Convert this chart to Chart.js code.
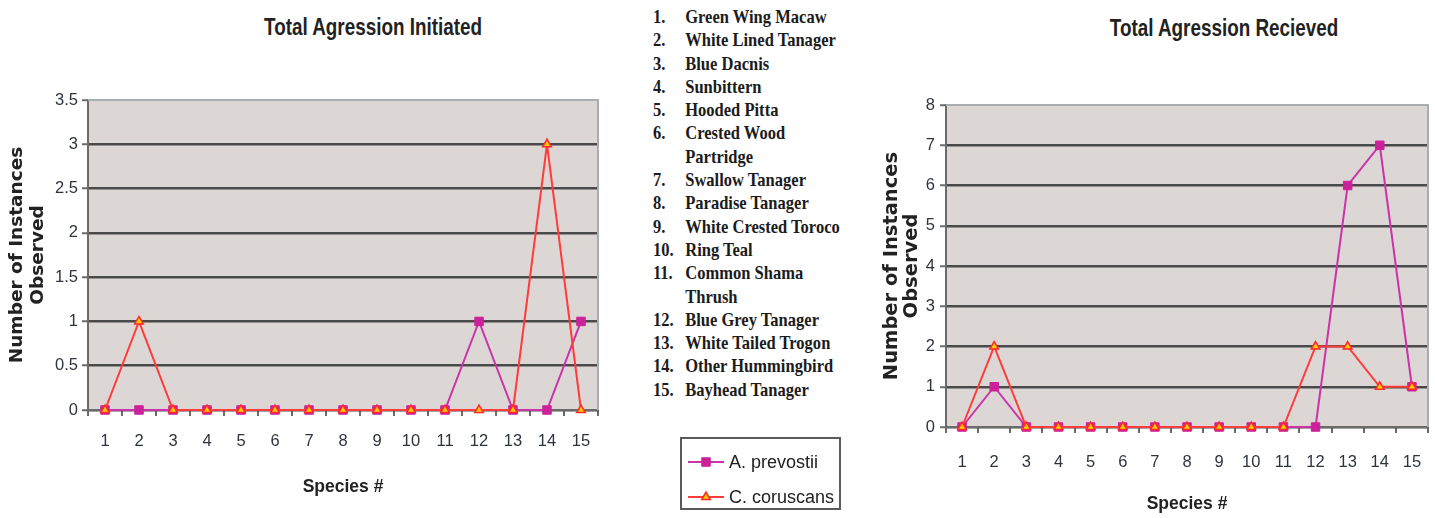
<!DOCTYPE html>
<html>
<head>
<meta charset="utf-8">
<title>Total Agression</title>
<script src="https://cdn.jsdelivr.net/npm/chart.js@4.4.1/dist/chart.umd.min.js"></script>
<style>
  html, body { margin: 0; padding: 0; background: #ffffff; }
  body { width: 1435px; height: 518px; position: relative; overflow: hidden; }
  .panel { position: absolute; top: 0; height: 518px; }
  .panel canvas { display: block; }
  .chart-title {
    position: absolute;
    font-family: "Liberation Sans", Arial, sans-serif;
    font-weight: bold; font-size: 23px; color: #222;
    white-space: nowrap; transform: translate(-50%, -50%) scaleX(0.82);
  }
  #species-list {
    position: absolute; left: 653px; top: 5px;
    font-family: "Liberation Serif", "Times New Roman", serif;
    font-weight: bold; font-size: 19px; line-height: 23.3px; color: #1c1c1c;
    transform: scaleX(0.87); transform-origin: left top;
    white-space: nowrap;
  }
  #species-list .item { display: flex; }
  #species-list .num { width: 37px; flex: none; }
  #legend {
    position: absolute; left: 680px; top: 437px; width: 157px; height: 69px;
    border: 2px solid #5a5a5a; background: #fff;
    font-family: "Liberation Sans", Arial, sans-serif; font-size: 18px; color: #222;
  }
  #legend .row { position: absolute; left: 6px; display: flex; align-items: center; height: 22px; }
  #legend .row canvas { display: block; margin-right: 5px; }
</style>
</head>
<body>

<div class="chart-title" style="left:373px; top:27px;">Total Agression Initiated</div>
<div class="chart-title" style="left:1224px; top:28px;">Total Agression Recieved</div>

<div class="panel" style="left:0; width:620px;"><canvas id="initiated" width="620" height="518"></canvas></div>
<div class="panel" style="left:860px; width:575px;"><canvas id="received" width="575" height="518"></canvas></div>

<div id="species-list"></div>
<div id="legend"></div>

<script>
// Species numbers on the x axis and the key listing them
const speciesIds = ['1', '2', '3', '4', '5', '6', '7', '8', '9', '10', '11', '12', '13', '14', '15'];
const speciesNames = [
  'Green Wing Macaw', 'White Lined Tanager', 'Blue Dacnis', 'Sunbittern', 'Hooded Pitta',
  'Crested Wood\nPartridge', 'Swallow Tanager', 'Paradise Tanager', 'White Crested Toroco', 'Ring Teal',
  'Common Shama\nThrush', 'Blue Grey Tanager', 'White Tailed Trogon', 'Other Hummingbird', 'Bayhead Tanager'
];

// Aggression counts per species
const initiatedPrevostii = [0, 0, 0, 0, 0, 0, 0, 0, 0, 0, 0, 1, 0, 0, 1];
const initiatedCoruscans = [0, 1, 0, 0, 0, 0, 0, 0, 0, 0, 0, 0, 0, 3, 0];
const receivedPrevostii  = [0, 1, 0, 0, 0, 0, 0, 0, 0, 0, 0, 0, 6, 7, 1];
const receivedCoruscans  = [0, 2, 0, 0, 0, 0, 0, 0, 0, 0, 0, 2, 2, 1, 1];

// Y axis tick values
const initiatedTicks = [0, 0.5, 1, 1.5, 2, 2.5, 3, 3.5];
const receivedTicks  = [0, 1, 2, 3, 4, 5, 6, 7, 8];

const seriesStyle = {
  prevostii: { label: 'A. prevostii', line: '#cc33aa', fill: '#cc2299', edge: '#cc2299', shape: 'rect', radius: 6, edgeWidth: 1, order: 1 },
  coruscans: { label: 'C. coruscans', line: '#ff3b3b', fill: '#ffcc00', edge: '#ff2a2a', shape: 'triangle', radius: 5, edgeWidth: 1.5, order: 0 }
};

const sansFont = '"Liberation Sans", Arial, sans-serif';

// Grey plot background plus the light top/right frame
const plotFrame = {
  id: 'plotFrame',
  beforeDraw(chart) {
    const { ctx, chartArea: a } = chart;
    ctx.save();
    ctx.fillStyle = '#dcd7d4';
    ctx.fillRect(a.left, a.top, a.right - a.left, a.bottom - a.top);
    ctx.restore();
  },
  beforeDatasetsDraw(chart) {
    const { ctx, chartArea: a } = chart;
    ctx.save();
    ctx.strokeStyle = '#a7adb0';
    ctx.lineWidth = 2;
    ctx.beginPath();
    ctx.moveTo(a.left, a.top);
    ctx.lineTo(a.right, a.top);
    ctx.lineTo(a.right, a.bottom);
    ctx.stroke();
    ctx.restore();
  }
};

function dataset(style, values) {
  return {
    label: style.label,
    data: values,
    borderColor: style.line,
    borderWidth: 2,
    backgroundColor: style.fill,
    pointStyle: style.shape,
    pointRadius: style.radius,
    pointHoverRadius: style.radius,
    pointBackgroundColor: style.fill,
    pointBorderColor: style.edge,
    pointBorderWidth: style.edgeWidth,
    tension: 0,
    clip: false,
    order: style.order
  };
}

function makeChart(id, prevostii, coruscans, ticks, geom) {
  const yMax = ticks[ticks.length - 1];
  return new Chart(document.getElementById(id), {
    type: 'line',
    data: {
      labels: speciesIds,
      datasets: [dataset(seriesStyle.prevostii, prevostii), dataset(seriesStyle.coruscans, coruscans)]
    },
    plugins: [plotFrame],
    options: {
      responsive: false,
      animation: false,
      devicePixelRatio: 1,
      layout: { padding: { left: geom.padLeft, right: geom.padRight, top: geom.top, bottom: 0 } },
      plugins: { legend: { display: false }, tooltip: { enabled: false }, title: { display: false } },
      events: [],
      scales: {
        x: {
          type: 'category',
          offset: true,
          grid: { offset: true, drawOnChartArea: false, drawTicks: true, tickLength: 6, color: '#6b6b6b', lineWidth: 2 },
          border: { color: '#6b6b6b', width: 2 },
          ticks: { color: '#2e3340', padding: geom.xTickPad, autoSkip: false, maxRotation: 0, font: { family: sansFont, size: 16.5 } },
          title: {
            display: true, text: 'Species #', color: '#222',
            font: { family: sansFont, size: 17.5, weight: 'bold' },
            padding: { top: 0, bottom: geom.xTitlePad }
          },
          afterFit(scale) {
            scale.height = geom.xHeight;
            scale.paddingLeft = 0;
            scale.paddingRight = 0;
          }
        },
        y: {
          min: 0,
          max: yMax,
          afterBuildTicks(scale) { scale.ticks = ticks.map(v => ({ value: v })); },
          grid: {
            color: c => (c.tick && c.tick.value === yMax) ? 'rgba(0,0,0,0)' : '#4a4a4a',
            lineWidth: 2.5,
            tickLength: 6,
            tickColor: '#6b6b6b',
            tickWidth: 2
          },
          border: { color: '#6b6b6b', width: 2 },
          ticks: {
            color: '#2e3340', padding: geom.yTickPad, font: { family: sansFont, size: 16.5 },
            callback: v => String(v)
          },
          title: {
            display: true, text: ['Number of Instances', 'Observed'], color: '#222',
            font: { family: '"DejaVu Sans", sans-serif', size: geom.yTitleSize, weight: 'bold', lineHeight: geom.yTitleLine },
            padding: { top: geom.yTitlePad, bottom: 0 }
          },
          afterFit(scale) { scale.width = geom.yWidth; }
        }
      }
    }
  });
}

makeChart('initiated', initiatedPrevostii, initiatedCoruscans, initiatedTicks,
  { padLeft: 3, padRight: 22, top: 100, yWidth: 85, xHeight: 108, xTickPad: 16, xTitlePad: 20,
    yTickPad: 4, yTitleSize: 18.5, yTitleLine: 1.14, yTitlePad: 4 });
makeChart('received', receivedPrevostii, receivedCoruscans, receivedTicks,
  { padLeft: 17, padRight: 7, top: 105, yWidth: 69, xHeight: 91, xTickPad: 20, xTitlePad: 3,
    yTickPad: 5, yTitleSize: 19.5, yTitleLine: 1.03, yTitlePad: 5 });

// Numbered species key
const list = document.getElementById('species-list');
speciesNames.forEach((name, i) => {
  const item = document.createElement('div');
  item.className = 'item';
  const num = document.createElement('span');
  num.className = 'num';
  num.textContent = speciesIds[i] + '.';
  const txt = document.createElement('span');
  name.split('\n').forEach((part, j) => {
    if (j) txt.appendChild(document.createElement('br'));
    txt.appendChild(document.createTextNode(part));
  });
  item.appendChild(num);
  item.appendChild(txt);
  list.appendChild(item);
});

// Series key with the same line and marker styles
const legend = document.getElementById('legend');
[seriesStyle.prevostii, seriesStyle.coruscans].forEach((s, i) => {
  const row = document.createElement('div');
  row.className = 'row';
  row.style.top = (i === 0 ? 12 : 47) + 'px';
  const cv = document.createElement('canvas');
  cv.width = 36; cv.height = 16;
  const ctx = cv.getContext('2d');
  ctx.strokeStyle = s.line; ctx.lineWidth = 2;
  ctx.beginPath(); ctx.moveTo(0, 8); ctx.lineTo(36, 8); ctx.stroke();
  ctx.fillStyle = s.fill; ctx.strokeStyle = s.edge; ctx.lineWidth = s.edgeWidth;
  Chart.helpers.drawPoint(ctx, { pointStyle: s.shape, radius: s.radius, borderWidth: s.edgeWidth, rotation: 0 }, 18, 8);
  const label = document.createElement('span');
  label.textContent = s.label;
  row.appendChild(cv);
  row.appendChild(label);
  legend.appendChild(row);
});
</script>
</body>
</html>
